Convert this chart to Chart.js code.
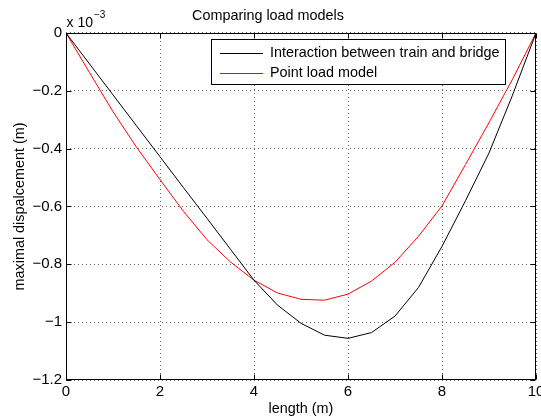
<!DOCTYPE html>
<html>
<head>
<meta charset="utf-8">
<script src="https://cdn.jsdelivr.net/npm/chart.js@4/dist/chart.umd.min.js"></script>
<style>
  html, body { margin: 0; padding: 0; background: #fff; }
  canvas { display: block; }
</style>
</head>
<body>
<canvas id="chart" width="541" height="418"></canvas>
<script>
// positions along the bridge (m)
const positions = [0, 0.5, 1, 1.5, 2, 2.5, 3, 3.5, 4, 4.5, 5, 5.5, 6, 6.5, 7, 7.5, 8, 8.5, 9, 9.5, 10];

// maximal displacement, in units of 1e-3 m
const trainBridge = [0, -0.107, -0.214, -0.321, -0.428, -0.535, -0.641, -0.748, -0.855, -0.941, -1.004,
    -1.045, -1.056, -1.036, -0.979, -0.880, -0.738, -0.580, -0.415, -0.215, 0];
const pointLoad = [0, -0.137, -0.272, -0.395, -0.507, -0.617, -0.715, -0.792, -0.855, -0.899, -0.921,
    -0.924, -0.903, -0.858, -0.793, -0.703, -0.598, -0.455, -0.310, -0.160, 0];

const seriesLabels = ['Interaction between train and bridge', 'Point load model'];
const seriesColors = ['#000000', '#ff0000'];

const xTickValues = [0, 2, 4, 6, 8, 10];
const yTickValues = [0, -0.2, -0.4, -0.6, -0.8, -1, -1.2];

const FONT = "'Liberation Sans', Arial, Helvetica, sans-serif";

function fmtTick(v) {
    const r = Math.round(v * 10) / 10;
    if (r === 0) return '0';
    return (r < 0 ? '\u2212' : '') + Math.abs(r).toString();
}

// MATLAB style box with inward ticks, legend and exponent label
const matlabDecor = {
    id: 'matlabDecor',
    afterDatasetsDraw(chart) {
        const { ctx, chartArea: a, scales: { x, y } } = chart;
        const L = Math.round(a.left) + 0.5, R = Math.round(a.right) - 0.5;
        const T = Math.round(a.top) + 0.5, B = Math.round(a.bottom) - 0.5;
        ctx.save();
        ctx.strokeStyle = '#000';
        ctx.lineWidth = 1;
        ctx.beginPath();
        xTickValues.forEach(v => {
            const px = Math.round(x.getPixelForValue(v)) + 0.5;
            ctx.moveTo(px, B); ctx.lineTo(px, B - 5);
            ctx.moveTo(px, T); ctx.lineTo(px, T + 5);
        });
        yTickValues.forEach(v => {
            const py = Math.round(y.getPixelForValue(v)) + 0.5;
            ctx.moveTo(L, py); ctx.lineTo(L + 5, py);
            ctx.moveTo(R, py); ctx.lineTo(R - 5, py);
        });
        ctx.stroke();
        ctx.strokeRect(L, T, R - L, B - T);

        // legend box
        ctx.font = '14.4px ' + FONT;
        const textW = Math.max(...seriesLabels.map(s => ctx.measureText(s).width));
        const boxW = Math.round(59 + textW + 5);
        const boxR = Math.round(a.right) - 31;
        const boxL = boxR - boxW;
        const boxT = Math.round(a.top) + 6;
        const boxH = 45;
        ctx.fillStyle = '#fff';
        ctx.fillRect(boxL + 0.5, boxT + 0.5, boxW, boxH);
        ctx.strokeRect(boxL + 0.5, boxT + 0.5, boxW, boxH);
        ctx.textBaseline = 'middle';
        ctx.textAlign = 'left';
        seriesLabels.forEach((lab, i) => {
            const yy = boxT + 14 + i * 20 + 0.5;
            ctx.strokeStyle = seriesColors[i];
            ctx.beginPath();
            ctx.moveTo(boxL + 9, yy);
            ctx.lineTo(boxL + 52, yy);
            ctx.stroke();
            ctx.fillStyle = '#000';
            ctx.fillText(lab, boxL + 59, yy);
        });

        // exponent label
        ctx.fillStyle = '#000';
        ctx.textBaseline = 'alphabetic';
        ctx.font = '14px ' + FONT;
        ctx.fillText('x 10', L, 27);
        const w = ctx.measureText('x 10').width;
        ctx.font = '10px ' + FONT;
        ctx.fillText('\u22123', L + w + 1, 18);
        ctx.restore();
    }
};

Chart.defaults.font.family = FONT;
Chart.defaults.color = '#000';

const chart = new Chart(document.getElementById('chart'), {
    type: 'line',
    data: {
        datasets: [
            {
                label: seriesLabels[0],
                data: positions.map((p, i) => ({ x: p, y: trainBridge[i] })),
                borderColor: seriesColors[0],
                borderWidth: 1,
                pointRadius: 0,
                tension: 0,
                fill: false
            },
            {
                label: seriesLabels[1],
                data: positions.map((p, i) => ({ x: p, y: pointLoad[i] })),
                borderColor: seriesColors[1],
                borderWidth: 1,
                pointRadius: 0,
                tension: 0,
                fill: false
            }
        ]
    },
    options: {
        responsive: false,
        animation: false,
        devicePixelRatio: 1,
        layout: { padding: { left: 0, right: 5, top: 0, bottom: 0 } },
        plugins: {
            legend: { display: false },
            tooltip: { enabled: false },
            title: {
                display: true,
                text: 'Comparing load models',
                color: '#000',
                font: { size: 14.4, weight: 'normal' },
                padding: { top: 7, bottom: 8.7 }
            }
        },
        scales: {
            x: {
                type: 'linear',
                min: 0,
                max: 10,
                afterBuildTicks: s => { s.ticks = xTickValues.map(v => ({ value: v })); },
                afterFit: s => { s.height = 38; s.paddingLeft = 0; s.paddingRight = 0; },
                ticks: {
                    font: { size: 15 },
                    padding: 3,
                    maxRotation: 0,
                    autoSkip: false,
                    callback: v => fmtTick(v)
                },
                grid: {
                    drawTicks: false,
                    color: 'rgba(0,0,0,0.6)',
                    lineWidth: 1
                },
                border: { display: false, dash: [1, 3] },
                title: {
                    display: true,
                    text: 'length (m)',
                    font: { size: 14.4 },
                    padding: { top: 0, bottom: 0 }
                }
            },
            y: {
                type: 'linear',
                min: -1.2,
                max: 0,
                afterBuildTicks: s => { s.ticks = yTickValues.map(v => ({ value: v })); },
                afterFit: s => { s.width = 66; },
                ticks: {
                    font: { size: 15 },
                    padding: 4,
                    autoSkip: false,
                    callback: v => fmtTick(v)
                },
                grid: {
                    drawTicks: false,
                    color: 'rgba(0,0,0,0.6)',
                    lineWidth: 1
                },
                border: { display: false, dash: [1, 3] },
                title: {
                    display: true,
                    text: 'maximal dispalcement (m)',
                    font: { size: 14.4 },
                    padding: { top: 11, bottom: 0 }
                }
            }
        }
    },
    plugins: [matlabDecor]
});
</script>
</body>
</html>
